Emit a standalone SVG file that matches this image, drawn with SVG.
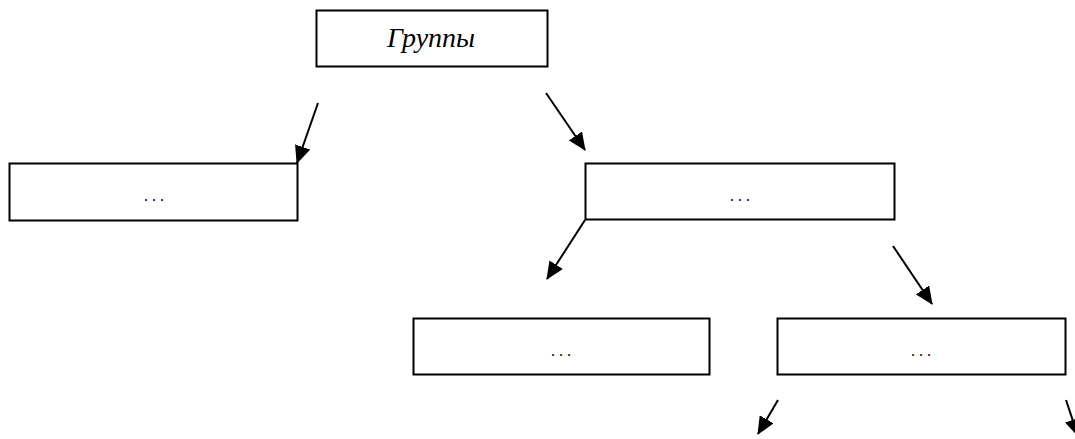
<svg xmlns="http://www.w3.org/2000/svg" width="1075" height="439" viewBox="0 0 1075 439">
  <style>
    .box { fill: #fff; stroke: #000; stroke-width: 2; }
    .lbl { font-family: "Liberation Serif", "Times New Roman", serif; font-size: 16px; fill: #000; text-anchor: middle; }
    .dots { letter-spacing: 4px; }
    .title { font-style: italic; font-size: 28px; }
    .link { stroke: #000; stroke-width: 2; fill: none; marker-end: url(#arrow); }
  </style>
  <defs>
    <marker id="arrow" markerUnits="userSpaceOnUse" markerWidth="18" markerHeight="16" viewBox="0 0 18 16" refX="17" refY="8" orient="auto">
      <path d="M0,0 L18,8 L0,16 Z" fill="#000"/>
    </marker>
  </defs>
  <rect width="1075" height="439" fill="#fff"/>

  <g id="node-groups">
    <rect class="box" x="316.5" y="10.5" width="231" height="56"/>
    <text class="lbl title" x="431" y="47">Группы</text>
  </g>
  <g id="node-left">
    <rect class="box" x="9.5" y="163.5" width="288" height="57"/>
    <text class="lbl dots" x="156" y="201">...</text>
  </g>
  <g id="node-mid">
    <rect class="box" x="585.5" y="163.5" width="309" height="56"/>
    <text class="lbl dots" x="742" y="201">...</text>
  </g>
  <g id="node-low-left">
    <rect class="box" x="413.5" y="318.5" width="296" height="56"/>
    <text class="lbl dots" x="563" y="356">...</text>
  </g>
  <g id="node-low-right">
    <rect class="box" x="777.5" y="318.5" width="288" height="56"/>
    <text class="lbl dots" x="923" y="356">...</text>
  </g>

  <g id="connectors">
    <line class="link" x1="318" y1="103" x2="297" y2="163"/>
    <line class="link" x1="546" y1="93" x2="585" y2="150"/>
    <line class="link" x1="585" y1="220" x2="547" y2="279"/>
    <line class="link" x1="893" y1="246" x2="932" y2="304"/>
    <line class="link" x1="778" y1="400" x2="758" y2="434"/>
    <line class="link" x1="1066" y1="400" x2="1078" y2="436"/>
  </g>
</svg>
